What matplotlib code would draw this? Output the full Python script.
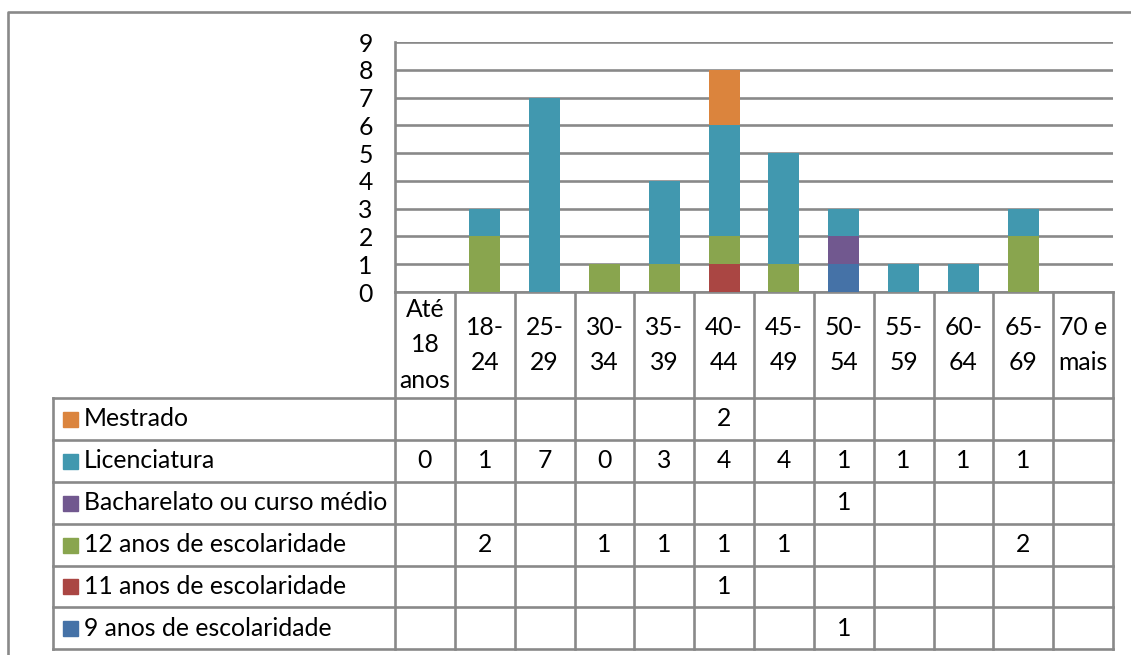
import numpy as np
import matplotlib
matplotlib.use("Agg")
import matplotlib.pyplot as plt
from matplotlib.patches import Rectangle
from matplotlib.lines import Line2D

## Data

categories = ["Até\n18\nanos", "18-\n24", "25-\n29", "30-\n34", "35-\n39", "40-\n44",
              "45-\n49", "50-\n54", "55-\n59", "60-\n64", "65-\n69", "70 e\nmais"]

# None = empty cell in the data table
nove_anos = [None, None, None, None, None, None, None, 1, None, None, None, None]
onze_anos = [None, None, None, None, None, 1, None, None, None, None, None, None]
doze_anos = [None, 2, None, 1, 1, 1, 1, None, None, None, 2, None]
bacharelato = [None, None, None, None, None, None, None, 1, None, None, None, None]
licenciatura = [0, 1, 7, 0, 3, 4, 4, 1, 1, 1, 1, None]
mestrado = [None, None, None, None, None, 2, None, None, None, None, None, None]

# stacking order bottom -> top
series = [
    ("9 anos de escolaridade", nove_anos, "#4572A7"),
    ("11 anos de escolaridade", onze_anos, "#AA4643"),
    ("12 anos de escolaridade", doze_anos, "#89A54E"),
    ("Bacharelato ou curso médio", bacharelato, "#71588F"),
    ("Licenciatura", licenciatura, "#4198AF"),
    ("Mestrado", mestrado, "#DB843D"),
]

yticks = list(range(0, 10))

## Layout (pixels)

W, H = 1131, 655
plot_l, plot_r = 395, 1113
plot_top, plot_bot = 42, 292
leg_l = 53
row_lines = [398, 440, 482, 524, 566, 607, 649]
grid_col = "#898989"
LW = 1.9
FONT = "Lato"
FS = 17.8

plt.rcParams['font.family'] = [FONT, 'DejaVu Sans']

fig = plt.figure(figsize=(W / 100, H / 100), dpi=100)

# overlay in pixel coords for the frame and data table
ov = fig.add_axes([0, 0, 1, 1])
ov.set_xlim(0, W)
ov.set_ylim(H, 0)
ov.axis("off")

ax = fig.add_axes([plot_l / W, (H - plot_bot) / H, (plot_r - plot_l) / W, (plot_bot - plot_top) / H])
n = len(categories)
x = np.arange(n)
bottom = np.zeros(n)
for name, vals, col in series:
    v = np.array([0 if a is None else a for a in vals], dtype=float)
    ax.bar(x, v, 0.52, bottom=bottom, color=col, zorder=3)
    bottom += v

ax.set_xlim(-0.5, n - 0.5)
ax.set_ylim(0, 9)
ax.set_yticks(yticks)
ax.set_yticklabels([str(t) for t in yticks], fontsize=FS)
ax.tick_params(axis="y", length=0, pad=16)
ax.set_xticks([])
ax.yaxis.grid(True, color=grid_col, lw=LW, zorder=0)
ax.set_axisbelow(True)
for s in ["top", "right"]:
    ax.spines[s].set_visible(False)
for s in ["left", "bottom"]:
    ax.spines[s].set_color(grid_col)
    ax.spines[s].set_linewidth(LW)
ax.patch.set_alpha(0)

# outer chart frame (cut at right and bottom)
ov.add_line(Line2D([8, 8, W], [H, 12, 12], color=grid_col, lw=LW))

# table grid
col_w = (plot_r - plot_l) / n
for i in range(n + 1):
    xc = plot_l + i * col_w
    ov.add_line(Line2D([xc, xc], [plot_bot, row_lines[-1]], color=grid_col, lw=LW))
for yr in row_lines:
    ov.add_line(Line2D([leg_l, plot_r], [yr, yr], color=grid_col, lw=LW))
ov.add_line(Line2D([leg_l, leg_l], [row_lines[0], row_lines[-1]], color=grid_col, lw=LW))

# header labels
for i, c in enumerate(categories):
    ov.text(plot_l + (i + 0.5) * col_w, (plot_bot + row_lines[0]) / 2, c,
            ha="center", va="center", fontsize=FS, linespacing=1.68)

# rows: top row is the last series
for r, (name, vals, col) in enumerate(series[::-1]):
    yc = (row_lines[r] + row_lines[r + 1]) / 2
    ov.add_patch(Rectangle((63, yc - 7.5), 15, 15, color=col))
    ov.text(84, yc, name, ha="left", va="center", fontsize=FS)
    for i, v in enumerate(vals):
        if v is not None:
            ov.text(plot_l + (i + 0.5) * col_w, yc, str(v), ha="center", va="center", fontsize=FS)

fig.savefig("out.png", dpi=100)
